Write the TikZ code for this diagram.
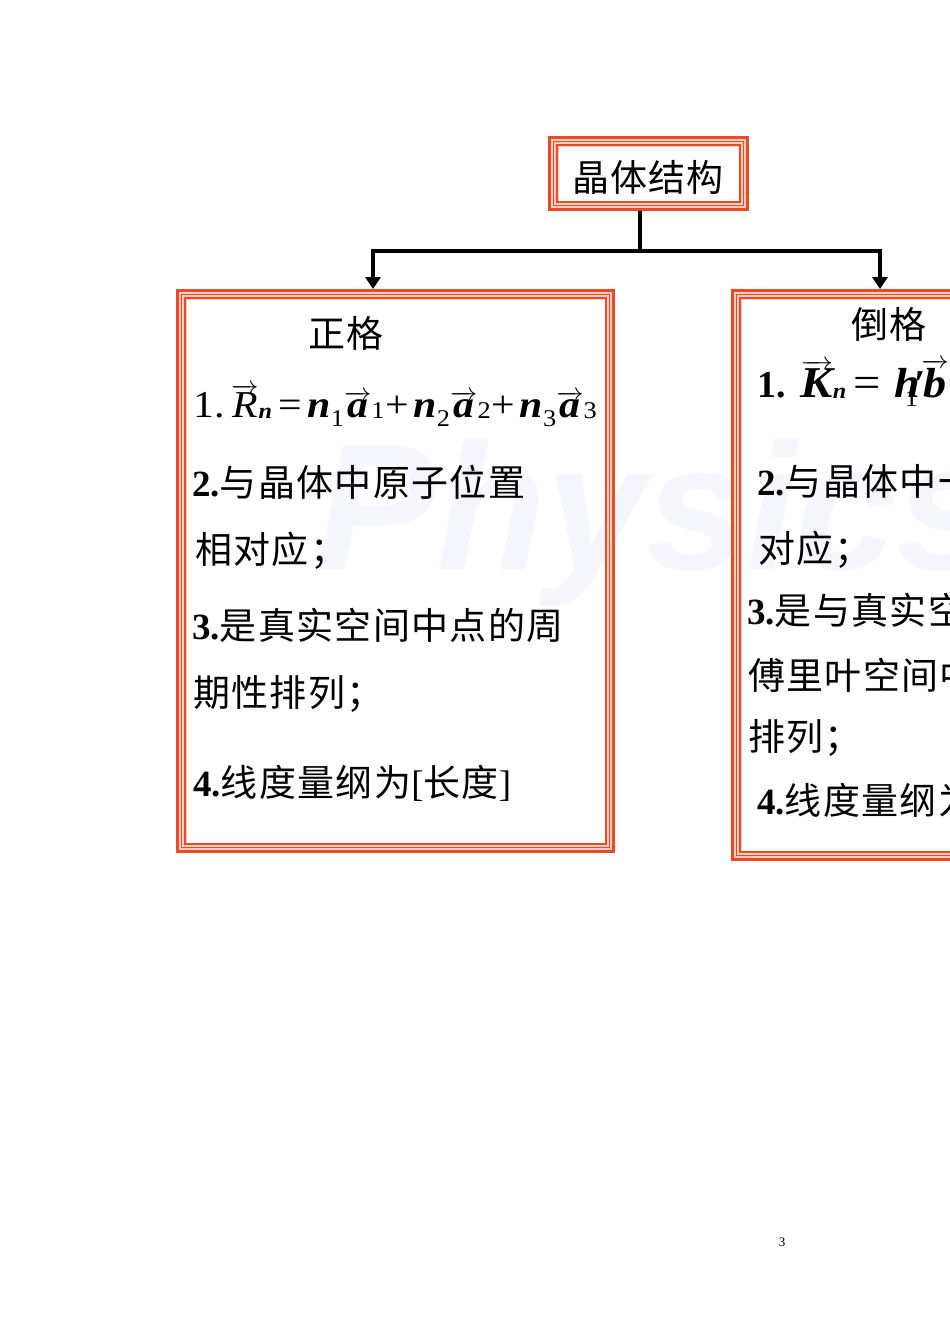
\documentclass[tikz,border=0pt]{standalone}
\usepackage{fontspec}
\setmainfont{Liberation Serif}
\newfontfamily\cjk[LetterSpace=3.6]{Noto Sans CJK SC}
\newfontfamily\wmfont{Liberation Sans}
\usetikzlibrary{arrows.meta}
\definecolor{framered}{RGB}{236,74,36}
\definecolor{framelight}{RGB}{250,208,194}
\definecolor{wmcol}{RGB}{245,247,252}
\tikzset{
  boxnode/.style={inner sep=0pt, outer sep=0pt, draw=none},
  conn/.style={line width=4pt, black},
  tipdown/.style={-{Triangle[width=15pt,length=12pt]}},
  txt/.style={font=\fontsize{37}{37}\selectfont, inner sep=0pt, anchor=base west},
  ctitle/.style={font=\fontsize{37}{37}\selectfont\cjk, inner sep=0pt, anchor=center},
}
\newcommand\redframe[1]{%
  \draw[line width=10.5pt, framelight] ([shift={(5.25pt,-5.25pt)}]#1.north west) rectangle ([shift={(-5.25pt,5.25pt)}]#1.south east);
  \draw[line width=3.2pt, framered] ([shift={(1.6pt,-1.6pt)}]#1.north west) rectangle ([shift={(-1.6pt,1.6pt)}]#1.south east);
  \draw[line width=1.5pt, framered] ([shift={(5.6pt,-5.6pt)}]#1.north west) rectangle ([shift={(-5.6pt,5.6pt)}]#1.south east);
  \draw[line width=1.6pt, framered] ([shift={(9pt,-9pt)}]#1.north west) rectangle ([shift={(-9pt,9pt)}]#1.south east);
}
\newcommand\vecbox[1]{$\overrightarrow{\hbox{#1}}$}
\newcommand\subA[1]{\raisebox{-9pt}{\fontsize{24}{24}\selectfont #1}}
\newcommand\subB[1]{\raisebox{-1pt}{\fontsize{22}{22}\selectfont #1}}
\newcommand\subC[1]{\raisebox{-1pt}{\fontsize{24}{24}\selectfont #1}}
\newcommand\bi[1]{{\bfseries\itshape #1}}

\begin{document}
\begin{tikzpicture}[x=1pt,y=-1pt]
\useasboundingbox (0,0) rectangle (950,1342);
\clip (0,0) rectangle (950,1342);
\fill[white] (0,0) rectangle (950,1342);

% watermark
\node[font=\wmfont\bfseries\itshape\fontsize{180}{180}\selectfont, text=wmcol, anchor=base west, inner sep=0pt] (wm) at (316,569) {Physics};

% boxes
\node[boxnode, minimum width=201pt, minimum height=75pt] (top) at (648.5,173.5) {};
\node[boxnode, minimum width=439pt, minimum height=564pt] (zheng) at (395.5,571) {};
\node[boxnode, minimum width=440pt, minimum height=572pt] (dao) at (951,575) {};
\redframe{top}
\redframe{zheng}
\redframe{dao}

% connectors
\coordinate (bus) at (640,251);
\coordinate (la) at (373,0);
\coordinate (ra) at (880,0);
\draw[conn] (top.south -| bus) -- (bus);
\draw[conn,tipdown] (bus) -| (zheng.north -| la);
\draw[conn,tipdown] (bus) -| (dao.north -| ra);

% titles
\node[ctitle] (ttop) at (648,177) {晶体结构};
\node[ctitle] (tz) at (346,333) {正格};
\node[ctitle] (td) at (889,324) {倒格};

% left box content
\node[txt, font=\fontsize{38}{38}\selectfont] (zf) at (193,417)
  {\scalebox{1.1}[1]{1.\hspace{6pt}\vecbox{\itshape R}\subB{\bi{n}}\hspace{6pt}=\hspace{5pt}\bi{n}\subA{1}\vecbox{\bi{a}}\subC{1}\hspace{1pt}+\hspace{4pt}\bi{n}\subA{2}\vecbox{\bi{a}}\subC{2}\hspace{1pt}+\hspace{4pt}\bi{n}\subA{3}\vecbox{\bi{a}}\subC{3}}};
\node[txt] (z2) at (192,496) {{\bfseries 2.}{\cjk 与晶体中原子位置}};
\node[txt] (z2b) at (195,563) {{\cjk 相对应；}};
\node[txt] (z3) at (192,639) {{\bfseries 3.}{\cjk 是真实空间中点的周}};
\node[txt] (z3b) at (193,706) {{\cjk 期性排列；}};
\node[txt] (z4) at (193,796) {{\bfseries 4.}{\cjk 线度量纲为}[{\cjk 长度}]};

% right box content
\node[txt, font=\fontsize{38}{38}\selectfont] (df) at (757,397)
  {{\bfseries 1.}\hspace{15pt}\scalebox{1.1}[1]{{\fontsize{44}{44}\selectfont\vecbox{\bi{K}}}\subB{\bi{n}}\hspace{6pt}{\fontsize{44}{44}\selectfont =}\hspace{13pt}{\fontsize{42}{42}\selectfont\bi{h}}\llap{\subA{1}\hspace{2pt}}\rlap{\hspace{-5pt}\raisebox{1pt}{\fontsize{38}{38}\selectfont\bfseries ′}}\hspace{1pt}\vecbox{\fontsize{42}{42}\selectfont\bi{b}}\subC{1}}};
\node[txt] (d2) at (757,495) {{\bfseries 2.}{\cjk 与晶体中一族晶面相}};
\node[txt] (d2b) at (758,562) {{\cjk 对应；}};
\node[txt] (d3) at (747,624) {{\bfseries 3.}{\cjk 是与真实空间相联系的}};
\node[txt] (d3b) at (748,689) {{\cjk 傅里叶空间中点的周期性}};
\node[txt] (d3c) at (748,750) {{\cjk 排列；}};
\node[txt] (d4) at (757,814) {{\bfseries 4.}{\cjk 线度量纲为}[{\cjk 长度}]};

% page number
\node[font=\fontsize{13}{13}\selectfont, inner sep=0pt] (pg) at (782,1242) {3};
\end{tikzpicture}
\end{document}
